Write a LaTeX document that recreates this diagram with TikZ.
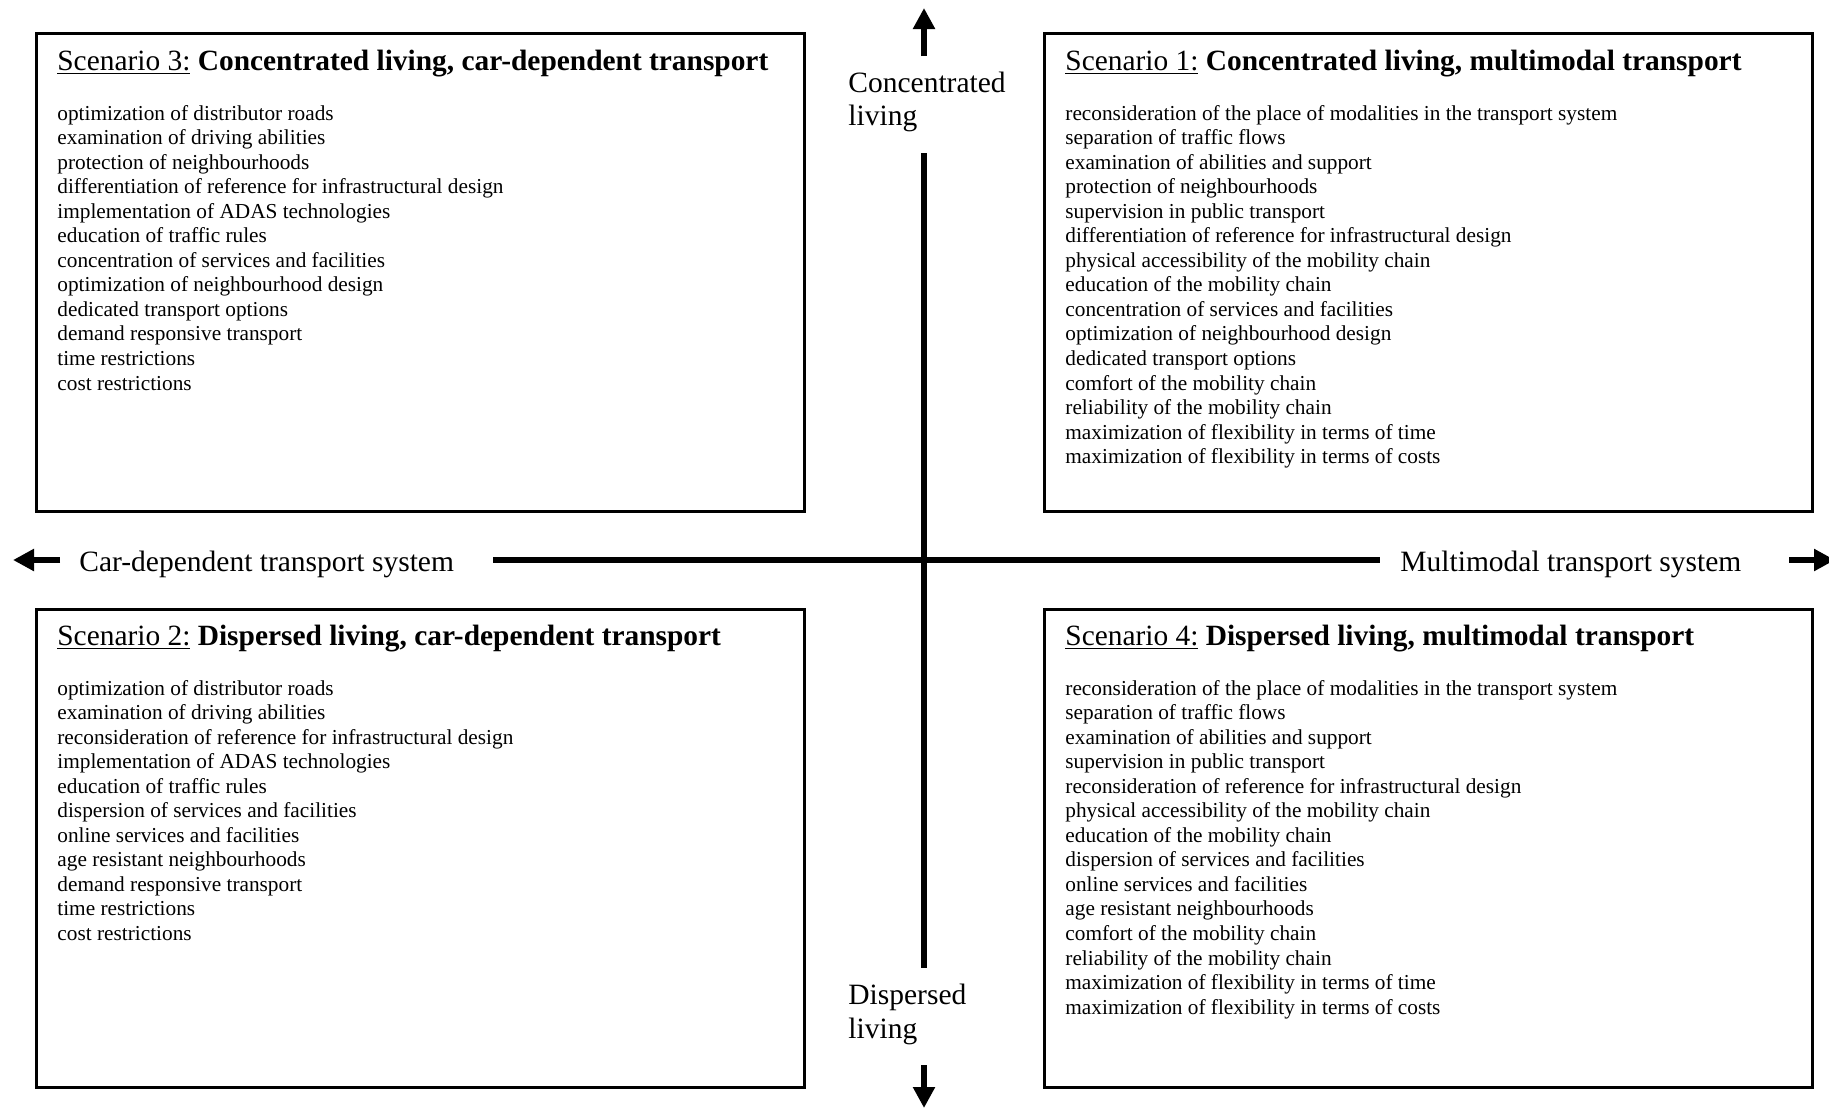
\documentclass[tikz,border=0pt]{standalone}
\usepackage{fontspec}
\setmainfont{Liberation Serif}
\usetikzlibrary{arrows.meta}

\begin{document}
\begin{tikzpicture}[x=0.5pt,y=-0.5pt,
  panel/.style={draw, line width=1.5pt, inner sep=0pt,
    minimum width=384pt, minimum height=239pt},
  heading/.style={anchor=base west, inner sep=0pt,
    font=\fontsize{14.7pt}{16.9pt}\selectfont},
  axislabel/.style={anchor=base west, inner sep=0pt,
    font=\fontsize{14.75pt}{17pt}\selectfont},
  item/.style={anchor=base west, inner sep=0pt,
    font=\fontsize{10.65pt}{12.3pt}\selectfont},
  axis/.style={line width=3pt},
  axisarrow/.style={axis, -{Triangle[length=10.5pt,width=10.5pt]}}]

% canvas
\fill[white] (0,0) rectangle (1829,1108);
\useasboundingbox (0,0) rectangle (1829,1108);

% the four scenario panels
\node[panel] (s3) at (420,272) {};
\node[panel] (s1) at (1428.5,272) {};
\node[panel] (s2) at (420,848) {};
\node[panel] (s4) at (1428.5,848) {};

% panel headings
\node[heading] (h3) at (57,70) {\underline{Scenario 3:} \textbf{Concentrated living, car-dependent transport}};
\node[heading] (h1) at (1065,70) {\underline{Scenario 1:} \textbf{Concentrated living, multimodal transport}};
\node[heading] (h2) at (57,645) {\underline{Scenario 2:} \textbf{Dispersed living, car-dependent transport}};
\node[heading] (h4) at (1065,645) {\underline{Scenario 4:} \textbf{Dispersed living, multimodal transport}};

% measures per scenario
\foreach \t [count=\i from 0] in {
  optimization of distributor roads,
  examination of driving abilities,
  protection of neighbourhoods,
  differentiation of reference for infrastructural design,
  implementation of ADAS technologies,
  education of traffic rules,
  concentration of services and facilities,
  optimization of neighbourhood design,
  dedicated transport options,
  demand responsive transport,
  time restrictions,
  cost restrictions}
  \node[item] (s3-\i) at (57,{120+24.55*\i}) {\t};

\foreach \t [count=\i from 0] in {
  reconsideration of the place of modalities in the transport system,
  separation of traffic flows,
  examination of abilities and support,
  protection of neighbourhoods,
  supervision in public transport,
  differentiation of reference for infrastructural design,
  physical accessibility of the mobility chain,
  education of the mobility chain,
  concentration of services and facilities,
  optimization of neighbourhood design,
  dedicated transport options,
  comfort of the mobility chain,
  reliability of the mobility chain,
  maximization of flexibility in terms of time,
  maximization of flexibility in terms of costs}
  \node[item] (s1-\i) at (1065,{120+24.55*\i}) {\t};

\foreach \t [count=\i from 0] in {
  optimization of distributor roads,
  examination of driving abilities,
  reconsideration of reference for infrastructural design,
  implementation of ADAS technologies,
  education of traffic rules,
  dispersion of services and facilities,
  online services and facilities,
  age resistant neighbourhoods,
  demand responsive transport,
  time restrictions,
  cost restrictions}
  \node[item] (s2-\i) at (57,{695+24.55*\i}) {\t};

\foreach \t [count=\i from 0] in {
  reconsideration of the place of modalities in the transport system,
  separation of traffic flows,
  examination of abilities and support,
  supervision in public transport,
  reconsideration of reference for infrastructural design,
  physical accessibility of the mobility chain,
  education of the mobility chain,
  dispersion of services and facilities,
  online services and facilities,
  age resistant neighbourhoods,
  comfort of the mobility chain,
  reliability of the mobility chain,
  maximization of flexibility in terms of time,
  maximization of flexibility in terms of costs}
  \node[item] (s4-\i) at (1065,{695+24.55*\i}) {\t};

% axis labels
\node[axislabel] (conc1) at (848,92) {Concentrated};
\node[axislabel] (conc2) at (848,125) {living};
\node[axislabel] (disp1) at (848,1004) {Dispersed};
\node[axislabel] (disp2) at (848,1038) {living};
\node[axislabel] (cardep) at (79,571) {Car-dependent transport system};
\node[axislabel] (multi) at (1400,571) {Multimodal transport system};

% vertical axis
\coordinate (vtip) at (924,8);
\coordinate (vtop) at (924,56);
\coordinate (vmidA) at (924,153);
\coordinate (vmidB) at (924,968);
\coordinate (vbot) at (924,1065);
\coordinate (vbtip) at (924,1108);
\draw[axisarrow] (vtop) -- (vtip);
\draw[axis] (vmidA) -- (vmidB);
\draw[axisarrow] (vbot) -- (vbtip);

% horizontal axis
\coordinate (hltip) at (13,560);
\coordinate (hleft) at (60,560);
\coordinate (hmidA) at (493,560);
\coordinate (hmidB) at (1380,560);
\coordinate (hright) at (1789,560);
\coordinate (hrtip) at (1835,560);
\draw[axisarrow] (hleft) -- (hltip);
\draw[axis] (hmidA) -- (hmidB);
\draw[axisarrow] (hright) -- (hrtip);
\end{tikzpicture}
\end{document}
